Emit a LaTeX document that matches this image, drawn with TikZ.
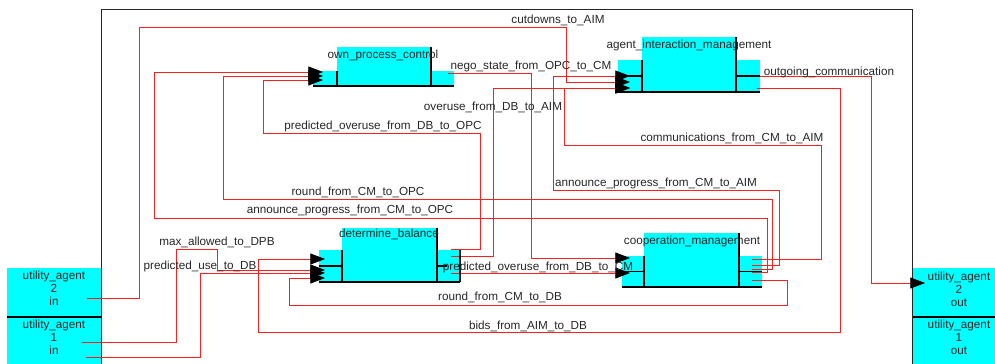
\documentclass[tikz,border=0pt]{standalone}
\usepackage{fontspec}
\setmainfont{Liberation Sans}
\usetikzlibrary{arrows.meta,fit}
\definecolor{aqua}{RGB}{0,255,255}
\definecolor{wirered}{RGB}{255,30,30}
\begin{document}
\begin{tikzpicture}[x=0.03cm,y=-0.03cm,
  blk/.style={fill=aqua, draw=none, inner sep=0pt, outer sep=0pt},
  edge/.style={black, line width=0.9pt},
  wire/.style={wirered, line width=0.65pt},
  arr/.style={wire, -{Triangle[length=4.4mm,width=3.3mm,color=black,fill=black]}},
  lbl/.style={font=\fontsize{10}{11.1}\selectfont, inner sep=0pt, text=black!85, align=center}]
\useasboundingbox (0,0) rectangle (995,364);

% ---------- utility agent boxes ----------
\node[blk, fit={(7,268) (101,317)}] (ua2i) {};
\node[blk, fit={(7,317) (101,364)}] (ua1i) {};
\node[blk, fit={(912,268) (995,317)}] (ua2o) {};
\node[blk, fit={(912,317) (995,364)}] (ua1o) {};
\draw[edge, line width=1.2pt] (ua2i.south west) -- (ua2i.south east);
\draw[edge, line width=1.2pt] (ua2o.south west) -- (ua2o.south east);

% ---------- frame ----------
\draw[black!85, line width=0.8pt] (101,364) -- (101,9) -- (912,9) -- (912,364);

% ---------- blocks ----------
% own_process_control
\node[blk, fit={(313,71) (337,86)}] (opcL) {};
\node[blk, fit={(337,47) (431,86)}] (opc) {};
\node[blk, fit={(431,71) (454,86)}] (opcR) {};
% agent_interaction_management
\node[blk, fit={(618,60) (642,92)}] (aimL) {};
\node[blk, fit={(642,37) (736,92)}] (aim) {};
\node[blk, fit={(736,60) (760,92)}] (aimR) {};
% determine_balance
\node[blk, fit={(319,250) (342,282)}] (dbL) {};
\node[blk, fit={(342,228) (437,282)}] (db) {};
\node[blk, fit={(437,250) (460,282)}] (dbR) {};
% cooperation_management
\node[blk, fit={(622,256) (644,287)}] (cmL) {};
\node[blk, fit={(644,233) (739,287)}] (cm) {};
\node[blk, fit={(739,256) (762,287)}] (cmR) {};

% ---------- port coordinates ----------
\coordinate (ua2in) at (87,298);
\coordinate (ua1inA) at (82,342);
\coordinate (ua1inB) at (86,357);
\coordinate (ua2out) at (925,283);
\coordinate (opcIn1) at (323,72);
\coordinate (opcIn2) at (323,76);
\coordinate (opcIn3) at (323,80);
\coordinate (opcOut) at (448,73);
\coordinate (aimIn1) at (630,76);
\coordinate (aimIn2) at (630,82);
\coordinate (aimIn3) at (630,88);
\coordinate (aimOut1) at (757,76);
\coordinate (aimOut2) at (757,88);
\coordinate (dbIn1) at (325,259);
\coordinate (dbIn2) at (325,270);
\coordinate (dbIn3) at (325,273);
\coordinate (dbIn4) at (325,278);
\coordinate (dbOut1) at (451,249);
\coordinate (dbOut2) at (451,256);
\coordinate (dbOut3) at (451,273);
\coordinate (cmIn1) at (630,258);
\coordinate (cmIn2) at (630,273);
\coordinate (cmOut1) at (752,259);
\coordinate (cmOut2) at (752,265);
\coordinate (cmOut3) at (752,269);
\coordinate (cmOut4) at (752,272);
\coordinate (cmOut5) at (752,280);

% ---------- wires ----------
% cutdowns_to_AIM
\draw[arr] (ua2in) -- (139,298) -- (139,27) -- (566,27) -- (566,82) -- (aimIn2);
% nego_state_from_OPC_to_CM
\draw[arr] (opcOut) -- (531,73) -- (531,258) -- (cmIn1);
% overuse_from_DB_to_AIM
\draw[arr] (dbOut2) -- (493,256) -- (493,88) -- (aimIn3);
% predicted_overuse_from_DB_to_OPC
\draw[arr] (dbOut1) -- (480,249) -- (480,133) -- (263,133) -- (263,80) -- (opcIn3);
% communications_from_CM_to_AIM
\draw[arr] (cmOut1) -- (821,259) -- (821,145) -- (564,145) -- (564,88) -- (aimIn3);
% announce_progress_from_CM_to_AIM
\draw[arr] (cmOut2) -- (779,265) -- (779,190) -- (553,190) -- (553,76) -- (aimIn1);
% round_from_CM_to_OPC
\draw[arr] (cmOut3) -- (772,269) -- (772,199) -- (223,199) -- (223,76) -- (opcIn2);
% announce_progress_from_CM_to_OPC
\draw[arr] (cmOut4) -- (767,272) -- (767,218) -- (154,218) -- (154,72) -- (opcIn1);
% outgoing_communication
\draw[arr] (aimOut1) -- (871,76) -- (871,283) -- (ua2out);
% bids_from_AIM_to_DB
\draw[arr] (aimOut2) -- (840,88) -- (840,332) -- (258,332) -- (258,259) -- (dbIn1);
% max_allowed_to_DPB
\draw[arr] (ua1inA) -- (176,342) -- (176,249) -- (217,249) -- (217,270) -- (dbIn2);
% predicted_use_to_DB
\draw[arr] (ua1inB) -- (200,357) -- (200,273) -- (dbIn3);
% round_from_CM_to_DB
\draw[arr] (cmOut5) -- (787,280) -- (787,305) -- (289,305) -- (289,278) -- (dbIn4);
% predicted_overuse_from_DB_to_CM
\draw[arr] (dbOut3) -- (cmIn2);

% ---------- block edges ----------
\draw[edge] (opcL.south west) -- (opcR.south east);
\draw[edge] (opcL.north east) -- (opcL.south east);
\draw[edge] (opc.north east) -- (opc.south east);

\draw[edge] (aimL.south west) -- (aimR.south east);
\draw[edge] (aimL.north east) -- (aimL.south east);
\draw[edge] (aim.north east) -- (aim.south east);
\draw[edge] (aimL.west) -- (aimL.east);
\draw[edge] (aimR.west) -- (aimR.east);

\draw[edge] (dbL.south west) -- (dbR.south east);
\draw[edge] (dbL.north east) -- (dbL.south east);
\draw[edge] (db.north east) -- (db.south east);
\draw[edge] (dbL.west) -- (dbL.east);
\draw[edge] (dbR.west) -- (447,266);
\draw[edge] (dbR.north east) -- (dbR.south east);

\draw[edge] (cmL.south west) -- (cmR.south east);
\draw[edge] (cmL.north east) -- (cmL.south east);
\draw[edge] (cm.north east) -- (cm.south east);
\draw[edge] (cmL.west) -- (cmL.east);
\draw[edge] (cmR.west) -- (cmR.east);

% ---------- block texts ----------
\node[lbl] (t_opc) at (383,55) {own\_process\_control};
\node[lbl] (t_aim) at (689,45) {agent\_interaction\_management};
\node[lbl] (t_db) at (389,234) {determine\_balance};
\node[lbl] (t_cm) at (692,241) {cooperation\_management};
\node[lbl] (t_ua2i) at (54,288) {utility\_agent\\2\\in};
\node[lbl] (t_ua1i) at (54,337) {utility\_agent\\1\\in};
\node[lbl] (t_ua2o) at (959,289) {utility\_agent\\2\\out};
\node[lbl] (t_ua1o) at (959,337) {utility\_agent\\1\\out};

% ---------- connector labels ----------
\node[lbl] (l1) at (558,20) {cutdowns\_to\_AIM};
\node[lbl] (l2) at (531,66) {nego\_state\_from\_OPC\_to\_CM};
\node[lbl] (l3) at (829,72) {outgoing\_communication};
\node[lbl] (l4) at (493,107) {overuse\_from\_DB\_to\_AIM};
\node[lbl] (l5) at (383,126) {predicted\_overuse\_from\_DB\_to\_OPC};
\node[lbl] (l6) at (732,138) {communications\_from\_CM\_to\_AIM};
\node[lbl] (l7) at (656,183) {announce\_progress\_from\_CM\_to\_AIM};
\node[lbl] (l8) at (358,192) {round\_from\_CM\_to\_OPC};
\node[lbl] (l9) at (350,210) {announce\_progress\_from\_CM\_to\_OPC};
\node[lbl] (l10) at (217,242) {max\_allowed\_to\_DPB};
\node[lbl] (l11) at (200,266) {predicted\_use\_to\_DB};
\node[lbl] (l12) at (538,267) {predicted\_overuse\_from\_DB\_to\_CM};
\node[lbl] (l13) at (500,297) {round\_from\_CM\_to\_DB};
\node[lbl] (l14) at (528,326) {bids\_from\_AIM\_to\_DB};
\end{tikzpicture}
\end{document}
